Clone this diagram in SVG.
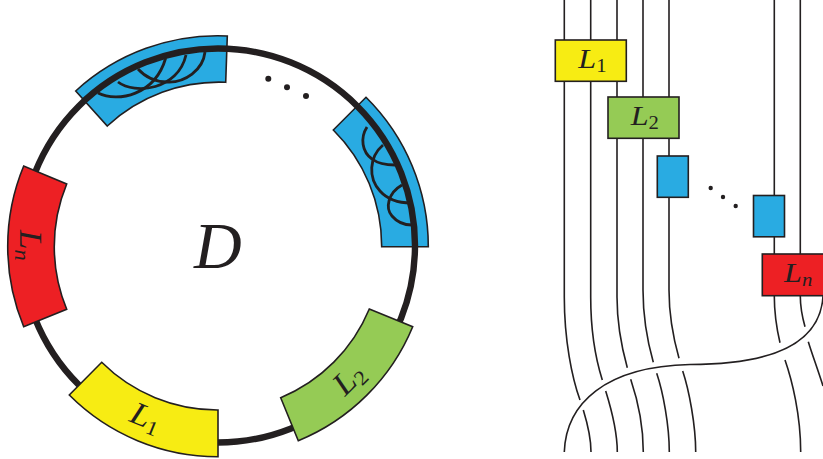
<svg xmlns="http://www.w3.org/2000/svg" width="823" height="459" viewBox="0 0 823 459">
<style>
.sec{stroke:#231f20;stroke-width:1.6;stroke-linejoin:miter}
.box{stroke:#231f20;stroke-width:1.6}
.blue{fill:#29abe2}.yellow{fill:#f7ec13}.green{fill:#95cb55}.red{fill:#ed2024}
.ring{fill:none;stroke:#231f20;stroke-width:6.4}
.arc{fill:none;stroke:#231f20;stroke-width:2.8}
.wire{fill:none;stroke:#231f20;stroke-width:1.6}
.dot{fill:#231f20}
text{fill:#231f20;font-family:"Liberation Serif","DejaVu Serif",serif}
.L{font-size:28px;font-style:italic}
.s{font-size:18px}
.si{font-size:18px;font-style:italic}
.D{font-size:66px;font-style:italic}
</style>

<g id="blue-top-sector"><path class="sec blue" d="M75.7,91 L107.3,126 A164,164 0 0 1 225.7,82.3 L227.3,36 A210,210 0 0 0 75.7,91 Z"/></g>
<g id="blue-right-sector"><path class="sec blue" d="M333.3,130 L366,97.3 A210,210 0 0 1 428.3,246.7 L381.7,246.7 A164,164 0 0 0 333.3,130 Z"/></g>

<g id="ring"><circle class="ring" cx="218" cy="245.5" r="197"/></g>

<g id="blue-top-arcs">
<path class="arc" d="M98,93 C118,103 155,95 165.7,58"/>
<path class="arc" d="M118,82 C135,95 178,90 186,55"/>
<path class="arc" d="M138,69 C148,80 158,82 167,82 C185,83 203,70 205,52"/>
</g>
<g id="blue-right-arcs">
<path class="arc" d="M367,127 C360,138 362,152 372,159 C380,165 390,165 395,165"/>
<path class="arc" d="M383,145 C369,157 368,178 380,191 C388,200 400,203 411,203"/>
<path class="arc" d="M402,185 C388,193 385,208 392,216 C397,222 405,225 412,225"/>
</g>

<g id="sector-Ln"><path class="sec red" d="M23.7,166 A210,210 0 0 0 23.7,326.7 L66.7,309.3 A164,164 0 0 1 66.7,184 Z"/>
<text transform="translate(20,230) rotate(90) scale(1.25,1.15)"><tspan class="L">L</tspan><tspan class="si" dy="4">n</tspan></text></g>
<g id="sector-L1"><path class="sec yellow" d="M69.3,395 A210,210 0 0 0 218,456.7 L218,410 A164,164 0 0 1 101.7,362.3 Z"/>
<text transform="translate(128,421) rotate(22) scale(1.25,1.15)"><tspan class="L">L</tspan><tspan class="s" dy="4">1</tspan></text></g>
<g id="sector-L2"><path class="sec green" d="M369.3,309 L412.7,326.7 A210,210 0 0 1 298.3,440.7 L280.7,397.7 A164,164 0 0 0 369.3,309 Z"/>
<text transform="translate(345,397) rotate(-45) scale(1.25,1.15)"><tspan class="L">L</tspan><tspan class="s" dy="4">2</tspan></text></g>

<g id="label-D"><text class="D" x="194" y="268">D</text></g>
<g id="dots-left">
<circle class="dot" cx="268.3" cy="78.7" r="3"/><circle class="dot" cx="287" cy="87.3" r="3"/><circle class="dot" cx="306" cy="96" r="3"/>
</g>

<g id="connectors">
<path class="wire" d="M564.3,0 V297 C564.3,340 572,378 580,400"/>
<path class="wire" d="M583.3,410 C587,422 591,436 591,452"/>
<path class="wire" d="M590.7,0 V297 C590.7,330 596,360 602.3,380"/>
<path class="wire" d="M605.7,391 C611,408 617.3,430 617.3,452"/>
<path class="wire" d="M617,0 V297 C617,320 621,345 627.3,367.7"/>
<path class="wire" d="M630.7,379.3 C637,398 643.3,425 643.3,452"/>
<path class="wire" d="M643,0 V290 C643,315 647,340 653.3,362.3"/>
<path class="wire" d="M656.7,373.3 C663,392 669.3,425 669.3,452"/>
<path class="wire" d="M669,0 V290 C669,315 673,337 679,358.3"/>
<path class="wire" d="M682.7,371 C689,390 695.7,425 695.7,452"/>
<path class="wire" d="M774.3,0 V296 C774.3,312 777,330 780,342.7"/>
<path class="wire" d="M785,360 C792,380 800.7,415 800.7,452"/>
<path class="wire" d="M800.3,0 V296 C800.3,305 802,316 805,326.7"/>
<path class="wire" d="M808.3,341.7 C812,354 818,370 823,386"/>
<path class="wire" d="M564.3,452 C566,403.6 605,366.4 690,364.5 C760,364.5 820,350 823,296"/>
</g>

<g id="box-L1"><rect class="box yellow" x="555.3" y="40" width="71" height="41.3"/>
<text transform="translate(578.3,68.3) scale(1.15,1)"><tspan class="L">L</tspan><tspan class="s" dy="3.5">1</tspan></text></g>
<g id="box-L2"><rect class="box green" x="608" y="97" width="71" height="41.3"/>
<text transform="translate(630.7,125) scale(1.15,1)"><tspan class="L">L</tspan><tspan class="s" dy="3.5">2</tspan></text></g>
<g id="box-blue-1"><rect class="box blue" x="657.3" y="156" width="31" height="41.3"/></g>
<g id="box-blue-2"><rect class="box blue" x="753.5" y="195.5" width="31" height="41.3"/></g>
<g id="box-Ln"><rect class="box red" x="762.3" y="254" width="71" height="41.7"/>
<text transform="translate(784,282.3) scale(1.15,1)"><tspan class="L">L</tspan><tspan class="si" dy="3.5">n</tspan></text></g>
<g id="dots-right">
<circle class="dot" cx="710.7" cy="188" r="2.2"/><circle class="dot" cx="723" cy="197" r="2.2"/><circle class="dot" cx="735.7" cy="206" r="2.2"/>
</g>
</svg>
